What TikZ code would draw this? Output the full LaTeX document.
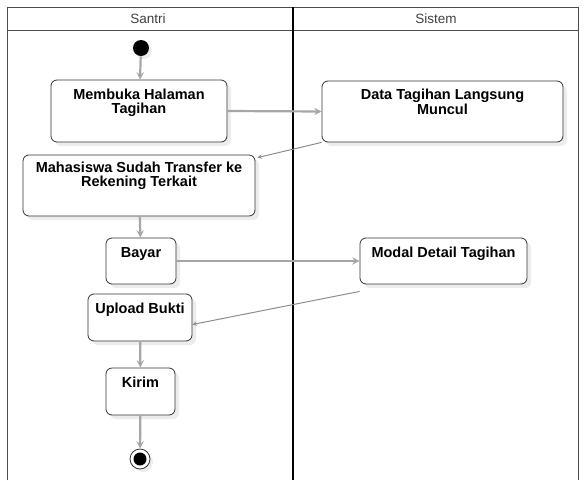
\documentclass[tikz,border=0pt]{standalone}
\usepackage{fontspec}
\setmainfont{Liberation Sans}
\usetikzlibrary{positioning,shadows}

\begin{document}
\begin{tikzpicture}[x=1pt,y=-1pt,line width=1.0pt,>=stealth,
  act/.style={draw=black!80,line width=0.8pt,rounded corners=6pt,fill=white,
    drop shadow={shadow xshift=4pt,shadow yshift=-4pt,opacity=0.15}},
  txt/.style={font=\bfseries\fontsize{14.5}{13.5}\selectfont,align=center,inner sep=0pt},
  flow/.style={->,draw=black!35,line width=2.2pt},
  back/.style={->,draw=black!45,line width=1pt},
  lane/.style={draw=black,line width=1.6pt}]
\useasboundingbox (0,0) rectangle (584,480);
% swimlanes
\draw[black!70,line width=0.8pt] (7,480) -- (7,7) -- (578,7) -- (578,480);
\draw[black!70,line width=0.8pt] (7,30) -- (578,30);
\draw[lane] (293,7) -- (293,480);
\node[font=\fontsize{13.5}{13.5}\selectfont,text=black!75] (santri) at (148,18.5) {Santri};
\node[font=\fontsize{13.5}{13.5}\selectfont,text=black!75] (sistem) at (436,18.5) {Sistem};
% start / end
\node[circle,fill=black,minimum size=16pt,inner sep=0pt,
  drop shadow={shadow xshift=3pt,shadow yshift=-3pt,opacity=0.15}] (start) at (141,48) {};
\node[circle,draw=black!80,fill=white,line width=0.8pt,minimum size=20pt,inner sep=0pt,
  drop shadow={shadow xshift=3pt,shadow yshift=-3pt,opacity=0.15}] (stop) at (140,459) {};
\node[circle,fill=black,minimum size=13pt,inner sep=0pt] (stopin) at (stop) {};
% activities
\node[act,minimum width=176pt,minimum height=62pt] (membuka) at (139,111) {};
\node[txt,below=9pt of membuka.north] (membukaT) {Membuka Halaman\\Tagihan};
\node[act,minimum width=241pt,minimum height=61pt] (data) at (442.5,111.5) {};
\node[txt,below=8pt of data.north] (dataT) {Data Tagihan Langsung\\Muncul};
\node[act,minimum width=232pt,minimum height=61pt] (transfer) at (139,185.5) {};
\node[txt,below=7pt of transfer.north] (transferT) {Mahasiswa Sudah Transfer ke\\Rekening Terkait};
\node[act,minimum width=70pt,minimum height=46pt] (bayar) at (141,261) {};
\node[txt,below=9pt of bayar.north] (bayarT) {Bayar};
\node[act,minimum width=167pt,minimum height=46pt] (modal) at (443.5,261) {};
\node[txt,below=9pt of modal.north] (modalT) {Modal Detail Tagihan};
\node[act,minimum width=104pt,minimum height=47pt] (upload) at (140,317.5) {};
\node[txt,below=9pt of upload.north] (uploadT) {Upload Bukti};
\node[act,minimum width=69pt,minimum height=47pt] (kirim) at (140.5,391.5) {};
\node[txt,below=9pt of kirim.north] (kirimT) {Kirim};
% transitions
\draw[flow] (start) -- (membuka);
\draw[flow] (membuka.east) -- (data.west);
\draw[back] (data.south west) -- ([xshift=2pt,yshift=-3pt]transfer.north east);
\draw[flow] (transfer) -- (bayar);
\draw[flow] (bayar.east) -- (modal.west);
\draw[back] ([yshift=-7pt]modal.south west) -- ([yshift=-7pt]upload.east);
\draw[flow] (upload) -- (kirim);
\draw[flow] (kirim) -- (stop);
\end{tikzpicture}
\end{document}
